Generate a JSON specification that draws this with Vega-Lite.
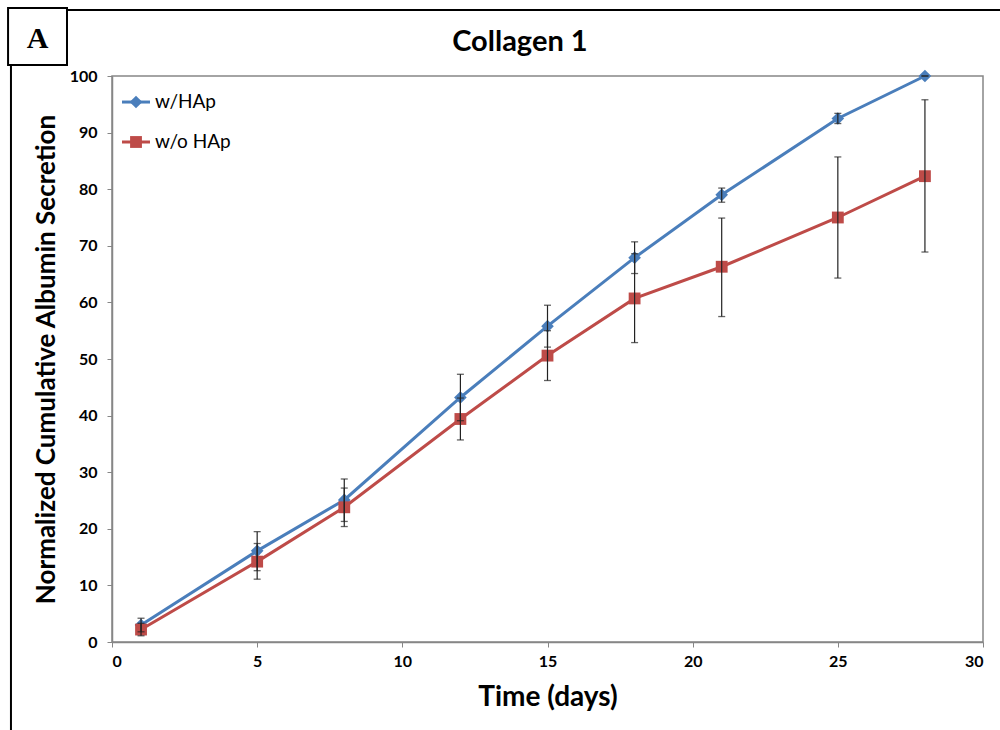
{
  "$schema": "https://vega.github.io/schema/vega-lite/v6.json",
  "width": 871,
  "height": 566,
  "autosize": "none",
  "padding": {"left": 112, "top": 76, "right": 17, "bottom": 88},
  "background": "white",
  "config": {"view": {"stroke": "#868686", "strokeWidth": 1.5}, "font": "Lato"},
  "datasets": {
    "series": [
      {"day": 1, "series": "w/HAp", "value": 3.0, "lo": 1.8, "hi": 4.2},
      {"day": 5, "series": "w/HAp", "value": 16.1, "lo": 12.6, "hi": 19.5},
      {"day": 8, "series": "w/HAp", "value": 25.1, "lo": 21.3, "hi": 28.8},
      {"day": 12, "series": "w/HAp", "value": 43.2, "lo": 39.1, "hi": 47.3},
      {"day": 15, "series": "w/HAp", "value": 55.8, "lo": 52.1, "hi": 59.5},
      {"day": 18, "series": "w/HAp", "value": 67.9, "lo": 65.1, "hi": 70.7},
      {"day": 21, "series": "w/HAp", "value": 79.0, "lo": 77.7, "hi": 80.2},
      {"day": 25, "series": "w/HAp", "value": 92.5, "lo": 91.6, "hi": 93.4},
      {"day": 28, "series": "w/HAp", "value": 100.0, "lo": 100.0, "hi": 100.0},
      {"day": 1, "series": "w/o HAp", "value": 2.2, "lo": 1.1, "hi": 3.3},
      {"day": 5, "series": "w/o HAp", "value": 14.2, "lo": 11.1, "hi": 17.4},
      {"day": 8, "series": "w/o HAp", "value": 23.8, "lo": 20.4, "hi": 27.2},
      {"day": 12, "series": "w/o HAp", "value": 39.4, "lo": 35.7, "hi": 43.1},
      {"day": 15, "series": "w/o HAp", "value": 50.6, "lo": 46.2, "hi": 55.0},
      {"day": 18, "series": "w/o HAp", "value": 60.7, "lo": 52.9, "hi": 68.6},
      {"day": 21, "series": "w/o HAp", "value": 66.3, "lo": 57.5, "hi": 74.9},
      {"day": 25, "series": "w/o HAp", "value": 75.0, "lo": 64.3, "hi": 85.7},
      {"day": 28, "series": "w/o HAp", "value": 82.3, "lo": 68.9, "hi": 95.8}
    ],
    "one": [{"k": 1}]
  },
  "layer": [
    {
      "data": {"name": "series"},
      "mark": {"type": "line", "strokeWidth": 3},
      "encoding": {
        "x": {
          "field": "day", "type": "quantitative",
          "scale": {"domain": [0, 30], "nice": false, "zero": false},
          "axis": {
            "title": "Time (days)", "titleFont": "Lato", "titleFontSize": 28, "titleFontWeight": "bold", "titleColor": "black", "titlePadding": 14,
            "values": [0, 5, 10, 15, 20, 25, 30], "grid": false,
            "labelFont": "Lato", "labelFontSize": 16, "labelFontWeight": "bold", "labelColor": "black", "labelPadding": 6,
            "tickSize": 5, "tickColor": "#868686", "domainColor": "#868686", "domainWidth": 1.5
          }
        },
        "y": {
          "field": "value", "type": "quantitative",
          "scale": {"domain": [0, 100], "nice": false},
          "axis": {
            "title": "Normalized Cumulative Albumin Secretion", "titleFont": "Lato", "titleFontSize": 26, "titleFontWeight": "bold", "titleColor": "black", "titlePadding": 10,
            "values": [0, 10, 20, 30, 40, 50, 60, 70, 80, 90, 100], "grid": false,
            "labelFont": "Lato", "labelFontSize": 16, "labelFontWeight": "bold", "labelColor": "black", "labelPadding": 10,
            "tickSize": 5, "tickColor": "#868686", "domainColor": "#868686", "domainWidth": 1.5
          }
        },
        "color": {"field": "series", "type": "nominal", "scale": {"domain": ["w/HAp", "w/o HAp"], "range": ["#4A7EBB", "#BE4B48"]}, "legend": null}
      }
    },
    {
      "data": {"name": "series"},
      "mark": {"type": "point", "filled": true, "opacity": 1},
      "encoding": {
        "x": {"field": "day", "type": "quantitative"},
        "y": {"field": "value", "type": "quantitative"},
        "color": {"field": "series", "type": "nominal", "legend": null},
        "shape": {"field": "series", "type": "nominal", "scale": {"domain": ["w/HAp", "w/o HAp"], "range": ["diamond", "square"]}, "legend": null},
        "size": {"field": "series", "type": "nominal", "scale": {"domain": ["w/HAp", "w/o HAp"], "range": [160, 140]}, "legend": null}
      }
    },
    {
      "data": {"name": "series"},
      "mark": {"type": "rule", "color": "#222222", "strokeWidth": 1.2},
      "encoding": {
        "x": {"field": "day", "type": "quantitative"},
        "y": {"field": "lo", "type": "quantitative"},
        "y2": {"field": "hi"}
      }
    },
    {
      "data": {"name": "series"},
      "mark": {"type": "tick", "orient": "horizontal", "color": "#222222", "size": 7, "thickness": 1.3},
      "encoding": {
        "x": {"field": "day", "type": "quantitative"},
        "y": {"field": "lo", "type": "quantitative"}
      }
    },
    {
      "data": {"name": "series"},
      "mark": {"type": "tick", "orient": "horizontal", "color": "#222222", "size": 7, "thickness": 1.3},
      "encoding": {
        "x": {"field": "day", "type": "quantitative"},
        "y": {"field": "hi", "type": "quantitative"}
      }
    },
    {
      "data": {"name": "one"},
      "mark": {"type": "rule", "color": "#4A7EBB", "strokeWidth": 3},
      "encoding": {"x": {"datum": 0.344, "type": "quantitative"}, "x2": {"datum": 1.309}, "y": {"datum": 95.4, "type": "quantitative"}}
    },
    {
      "data": {"name": "one"},
      "mark": {"type": "point", "shape": "diamond", "filled": true, "opacity": 1, "color": "#4A7EBB", "size": 160},
      "encoding": {"x": {"datum": 0.827, "type": "quantitative"}, "y": {"datum": 95.4, "type": "quantitative"}}
    },
    {
      "data": {"name": "one"},
      "mark": {"type": "text", "align": "left", "baseline": "middle", "font": "Lato", "fontSize": 19, "color": "black"},
      "encoding": {"x": {"datum": 1.48, "type": "quantitative"}, "y": {"datum": 95.4, "type": "quantitative"}, "text": {"value": "w/HAp"}}
    },
    {
      "data": {"name": "one"},
      "mark": {"type": "rule", "color": "#BE4B48", "strokeWidth": 3},
      "encoding": {"x": {"datum": 0.344, "type": "quantitative"}, "x2": {"datum": 1.309}, "y": {"datum": 88.34, "type": "quantitative"}}
    },
    {
      "data": {"name": "one"},
      "mark": {"type": "point", "shape": "square", "filled": true, "opacity": 1, "color": "#BE4B48", "size": 140},
      "encoding": {"x": {"datum": 0.827, "type": "quantitative"}, "y": {"datum": 88.34, "type": "quantitative"}}
    },
    {
      "data": {"name": "one"},
      "mark": {"type": "text", "align": "left", "baseline": "middle", "font": "Lato", "fontSize": 19, "color": "black"},
      "encoding": {"x": {"datum": 1.48, "type": "quantitative"}, "y": {"datum": 88.34, "type": "quantitative"}, "text": {"value": "w/o HAp"}}
    },
    {
      "data": {"name": "one"},
      "mark": {"type": "text", "align": "center", "baseline": "middle", "font": "Lato", "fontWeight": "bold", "fontSize": 29, "color": "black"},
      "encoding": {"x": {"datum": 14.05, "type": "quantitative"}, "y": {"datum": 106.0, "type": "quantitative"}, "text": {"value": "Collagen 1"}}
    },
    {
      "data": {"name": "one"},
      "mark": {"type": "rule", "color": "black", "strokeWidth": 2},
      "encoding": {"x": {"datum": -1.55, "type": "quantitative"}, "x2": {"datum": 31.5}, "y": {"datum": 111.66, "type": "quantitative"}}
    },
    {
      "data": {"name": "one"},
      "mark": {"type": "rule", "color": "black", "strokeWidth": 2},
      "encoding": {"x": {"datum": -3.48, "type": "quantitative"}, "y": {"datum": 101.94, "type": "quantitative"}, "y2": {"datum": -16}}
    },
    {
      "data": {"name": "one"},
      "mark": {"type": "rect", "fill": "white", "stroke": "black", "strokeWidth": 2},
      "encoding": {"x": {"datum": -3.58, "type": "quantitative"}, "x2": {"datum": -1.55}, "y": {"datum": 112.0, "type": "quantitative"}, "y2": {"datum": 101.94}}
    },
    {
      "data": {"name": "one"},
      "mark": {"type": "text", "align": "center", "baseline": "middle", "font": "Liberation Serif", "fontWeight": "bold", "fontSize": 30, "color": "black"},
      "encoding": {"x": {"datum": -2.56, "type": "quantitative"}, "y": {"datum": 106.6, "type": "quantitative"}, "text": {"value": "A"}}
    }
  ]
}
